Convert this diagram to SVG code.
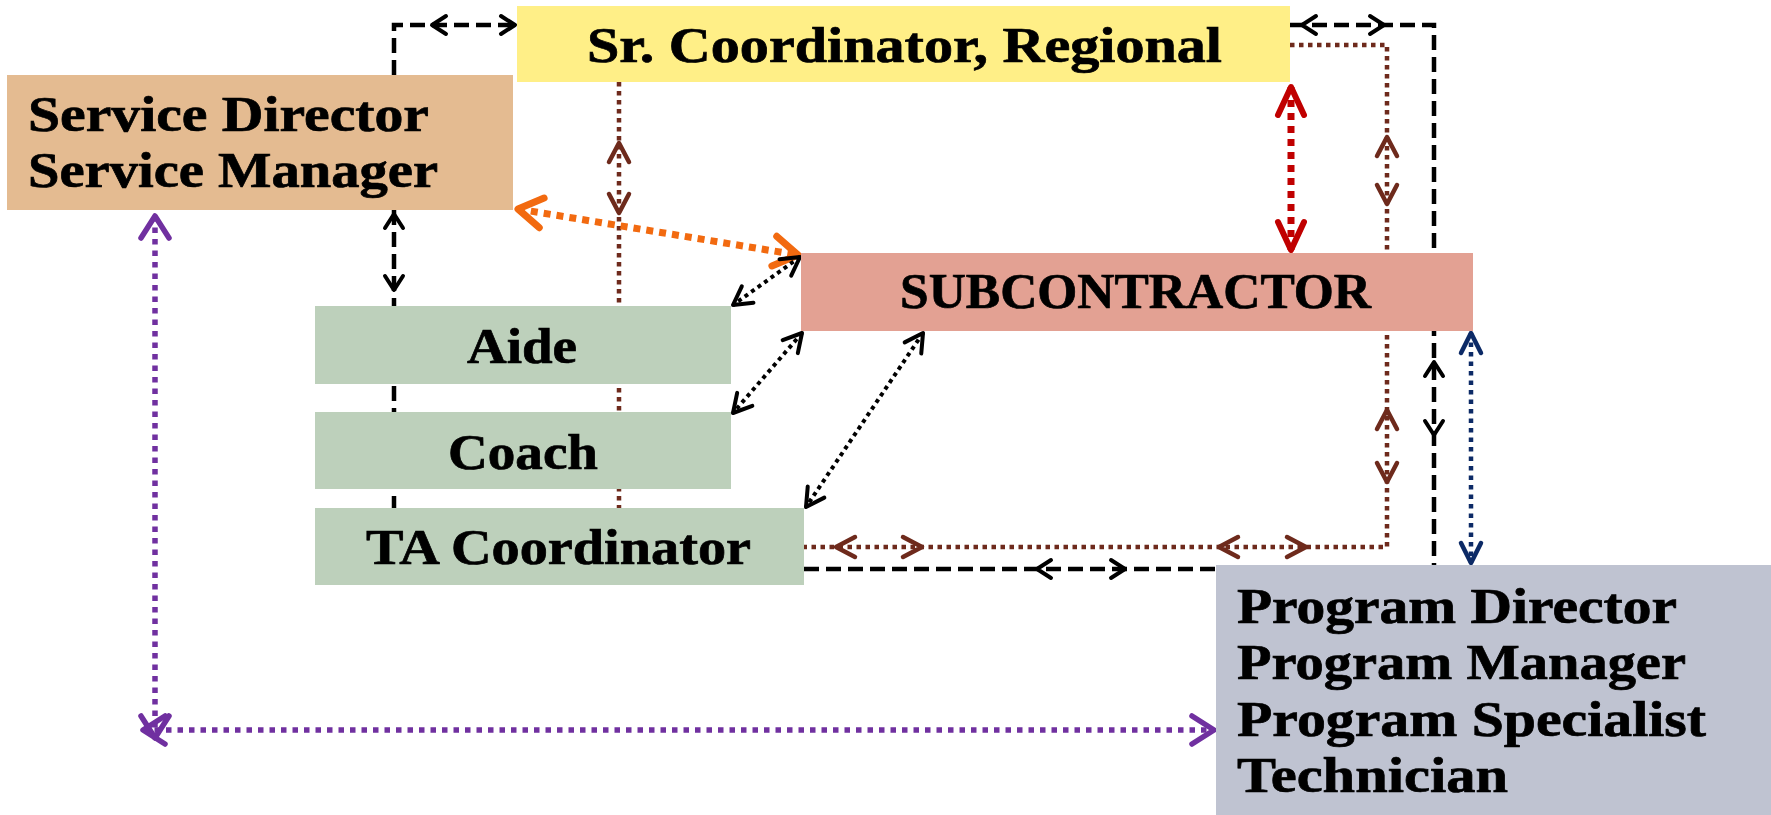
<svg xmlns="http://www.w3.org/2000/svg" width="1771" height="815" viewBox="0 0 1771 815">
<style>
.t{font-family:"Liberation Serif","Times New Roman",serif;font-weight:bold;font-size:50px;fill:#000;stroke:#000;stroke-width:0.7px}
.ln{fill:none}
.dash{stroke:#000;stroke-width:4.5;stroke-dasharray:15 7}
.brn{stroke:#6e2a1c;stroke-width:4.5;stroke-dasharray:4.5 4.5}
.org{stroke:#f26a10;stroke-width:7;stroke-dasharray:7 6}
.red{stroke:#c00000;stroke-width:7;stroke-dasharray:7 6}
.dot{stroke:#000;stroke-width:4;stroke-dasharray:4 4}
.nav{stroke:#0c2a66;stroke-width:4.5;stroke-dasharray:4.5 5}
.pur{stroke:#7030a0;stroke-width:5.5;stroke-dasharray:5.5 6}
.ar{fill:none;stroke:none}
</style>
<defs>
<marker id="mBlk" markerUnits="userSpaceOnUse" orient="auto-start-reverse" overflow="visible" markerWidth="1" markerHeight="1" refX="0" refY="0"><path d="M-14,-9 L0,0 L-14,9" fill="none" stroke="#000" stroke-width="4" stroke-linecap="round" stroke-linejoin="round"/></marker>
<marker id="mBrn" markerUnits="userSpaceOnUse" orient="auto-start-reverse" overflow="visible" markerWidth="1" markerHeight="1" refX="0" refY="0"><path d="M-19,-10 L0,0 L-19,10" fill="none" stroke="#6e2a1c" stroke-width="4.5" stroke-linecap="round" stroke-linejoin="round"/></marker>
<marker id="mDot" markerUnits="userSpaceOnUse" orient="auto-start-reverse" overflow="visible" markerWidth="1" markerHeight="1" refX="0" refY="0"><path d="M-18,-10 L0,0 L-18,10" fill="none" stroke="#000" stroke-width="4" stroke-linecap="round" stroke-linejoin="round"/></marker>
<marker id="mOrg" markerUnits="userSpaceOnUse" orient="auto-start-reverse" overflow="visible" markerWidth="1" markerHeight="1" refX="0" refY="0"><path d="M-24,-15 L0,0 L-24,15" fill="none" stroke="#f26a10" stroke-width="7" stroke-linecap="round" stroke-linejoin="round"/></marker>
<marker id="mRed" markerUnits="userSpaceOnUse" orient="auto-start-reverse" overflow="visible" markerWidth="1" markerHeight="1" refX="0" refY="0"><path d="M-28,-13 L0,0 L-28,13" fill="none" stroke="#c00000" stroke-width="6" stroke-linecap="round" stroke-linejoin="round"/></marker>
<marker id="mNav" markerUnits="userSpaceOnUse" orient="auto-start-reverse" overflow="visible" markerWidth="1" markerHeight="1" refX="0" refY="0"><path d="M-20,-10 L0,0 L-20,10" fill="none" stroke="#0c2a66" stroke-width="4.5" stroke-linecap="round" stroke-linejoin="round"/></marker>
<marker id="mPur" markerUnits="userSpaceOnUse" orient="auto-start-reverse" overflow="visible" markerWidth="1" markerHeight="1" refX="0" refY="0"><path d="M-22,-14 L0,0 L-22,14" fill="none" stroke="#7030a0" stroke-width="5.5" stroke-linecap="round" stroke-linejoin="round"/></marker>
</defs>
<rect x="0" y="0" width="1771" height="815" fill="#fff"/>
<g id="connectors">
<path class="ln dash" d="M394,75 V25 H517"/>
<path class="ar" d="M432,25 H515" marker-start="url(#mBlk)" marker-end="url(#mBlk)"/>
<path class="ln dash" d="M394,210 V508"/>
<path class="ar" d="M394,214 V290" marker-start="url(#mBlk)" marker-end="url(#mBlk)"/>
<path class="ln dash" d="M1290,25 H1434 V565"/>
<path class="ar" d="M1302,25 H1384" marker-start="url(#mBlk)" marker-end="url(#mBlk)"/>
<path class="ar" d="M1434,362 V435" marker-start="url(#mBlk)" marker-end="url(#mBlk)"/>
<path class="ln dash" d="M804,569 H1216"/>
<path class="ar" d="M1037,569 H1125" marker-start="url(#mBlk)" marker-end="url(#mBlk)"/>
<path class="ln brn" d="M619,82 V508"/>
<path class="ar" d="M619,143 V213" marker-start="url(#mBrn)" marker-end="url(#mBrn)"/>
<path class="ln brn" d="M1290,45 H1387 V547 H804"/>
<path class="ar" d="M1387,137 V204" marker-start="url(#mBrn)" marker-end="url(#mBrn)"/>
<path class="ar" d="M1387,410 V482" marker-start="url(#mBrn)" marker-end="url(#mBrn)"/>
<path class="ar" d="M1219,547 H1306" marker-start="url(#mBrn)" marker-end="url(#mBrn)"/>
<path class="ar" d="M836,547 H922" marker-start="url(#mBrn)" marker-end="url(#mBrn)"/>
<path class="ln org" d="M518,209 L798,255" marker-start="url(#mOrg)" marker-end="url(#mOrg)"/>
<path class="ln red" d="M1291,87 V250" marker-start="url(#mRed)" marker-end="url(#mRed)"/>
<path class="ln dot" d="M800,257 L733,305" marker-start="url(#mDot)" marker-end="url(#mDot)"/>
<path class="ln dot" d="M802,333 L733,413" marker-start="url(#mDot)" marker-end="url(#mDot)"/>
<path class="ln dot" d="M923,333 L806,507" marker-start="url(#mDot)" marker-end="url(#mDot)"/>
<path class="ln nav" d="M1471,333 V563" marker-start="url(#mNav)" marker-end="url(#mNav)"/>
<path class="ln pur" d="M155,216 V738" marker-start="url(#mPur)" marker-end="url(#mPur)"/>
<path class="ln pur" d="M143,730 H1214" marker-start="url(#mPur)" marker-end="url(#mPur)"/>
</g>
<g id="node-sr-coordinator">
<rect x="517" y="6" width="773" height="76" fill="#ffef87"/>
<text class="t" x="587" y="62" textLength="635" lengthAdjust="spacingAndGlyphs">Sr. Coordinator, Regional</text>
</g>
<g id="node-service">
<rect x="7" y="75" width="506" height="135" fill="#e4bb91"/>
<text class="t" x="28" y="131" textLength="401" lengthAdjust="spacingAndGlyphs">Service Director</text>
<text class="t" x="28" y="187" textLength="410" lengthAdjust="spacingAndGlyphs">Service Manager</text>
</g>
<g id="node-subcontractor">
<rect x="801" y="253" width="672" height="78" fill="#e3a193"/>
<text class="t" x="900" y="308" textLength="471" lengthAdjust="spacingAndGlyphs">SUBCONTRACTOR</text>
</g>
<g id="node-aide">
<rect x="315" y="306" width="416" height="78" fill="#bdd0bb"/>
<text class="t" x="467" y="363" textLength="110" lengthAdjust="spacingAndGlyphs">Aide</text>
</g>
<g id="node-coach">
<rect x="315" y="412" width="416" height="77" fill="#bdd0bb"/>
<text class="t" x="448" y="469" textLength="150" lengthAdjust="spacingAndGlyphs">Coach</text>
</g>
<g id="node-ta-coordinator">
<rect x="315" y="508" width="489" height="77" fill="#bdd0bb"/>
<text class="t" x="366" y="564" textLength="385" lengthAdjust="spacingAndGlyphs">TA Coordinator</text>
</g>
<g id="node-program">
<rect x="1216" y="565" width="555" height="250" fill="#bfc3d1"/>
<text class="t" x="1237" y="623" textLength="440" lengthAdjust="spacingAndGlyphs">Program Director</text>
<text class="t" x="1237" y="679" textLength="449" lengthAdjust="spacingAndGlyphs">Program Manager</text>
<text class="t" x="1237" y="736" textLength="469" lengthAdjust="spacingAndGlyphs">Program Specialist</text>
<text class="t" x="1237" y="792" textLength="271" lengthAdjust="spacingAndGlyphs">Technician</text>
</g>
</svg>
